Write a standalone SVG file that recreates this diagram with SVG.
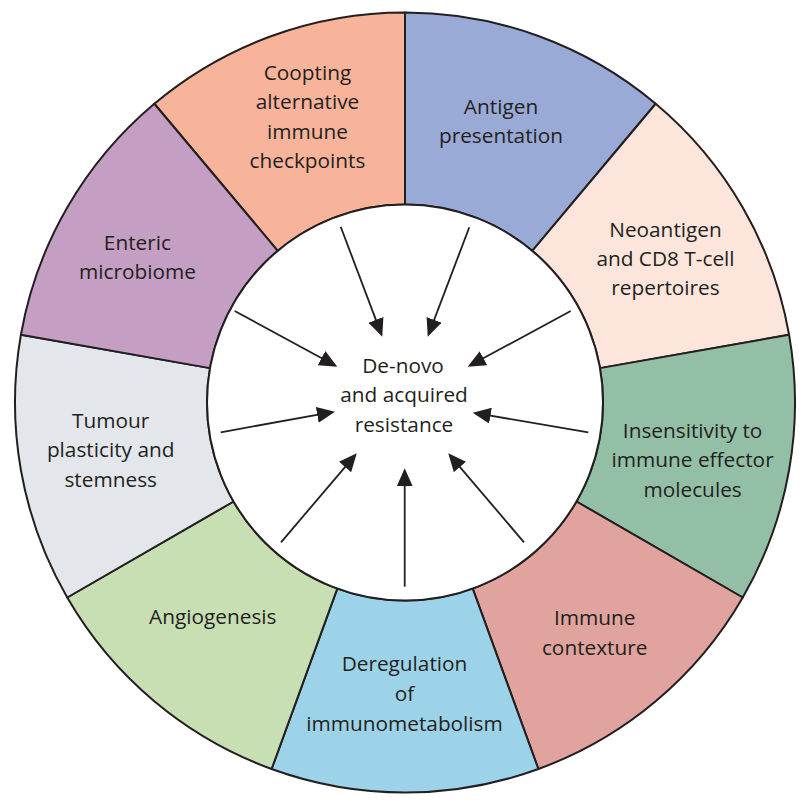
<svg xmlns="http://www.w3.org/2000/svg" width="806" height="807" viewBox="0 0 806 807">
<style>
.seg{stroke:#231f20;stroke-width:2;stroke-linejoin:round}
.lbl{font-family:"Open Sans","Noto Sans","Liberation Sans",sans-serif;font-size:20.8px;fill:#231f20;text-anchor:middle}
.arr{stroke:#231f20;stroke-width:1.8;fill:none;marker-end:url(#ah)}
</style>
<defs>
<marker id="ah" markerUnits="userSpaceOnUse" viewBox="0 0 18 16" markerWidth="18" markerHeight="16" refX="15" refY="8" orient="auto">
<path d="M0,0 L18,8 L0,16 Z" fill="#231f20"/>
</marker>
</defs>
<rect width="806" height="807" fill="#ffffff"/>
<g id="coopting">
<path class="seg" fill="#f7b49a" d="M277.73,250.82 L154.31,103.74 A390,390 0 0 1 405,12.5 L405,204.5 A198,198 0 0 0 277.73,250.82 Z"/>
<text class="lbl" x="307.5" y="80">Coopting</text>
<text class="lbl" x="307.5" y="109">alternative</text>
<text class="lbl" x="307.5" y="138.5">immune</text>
<text class="lbl" x="307.5" y="167.5">checkpoints</text>
</g>
<g id="antigen">
<path class="seg" fill="#9aaad6" d="M405,204.5 L405,12.5 A390,390 0 0 1 655.69,103.74 L532.27,250.82 A198,198 0 0 0 405,204.5 Z"/>
<text class="lbl" x="501" y="113.5">Antigen</text>
<text class="lbl" x="501" y="142.7">presentation</text>
</g>
<g id="neoantigen">
<path class="seg" fill="#fde5db" d="M532.27,250.82 L655.69,103.74 A390,390 0 0 1 789.08,334.78 L599.99,368.12 A198,198 0 0 0 532.27,250.82 Z"/>
<text class="lbl" x="665.5" y="236.7">Neoantigen</text>
<text class="lbl" x="665.5" y="265.7">and CD8 T-cell</text>
<text class="lbl" x="665.5" y="295">repertoires</text>
</g>
<g id="insensitivity">
<path class="seg" fill="#93bfa7" d="M599.99,368.12 L789.08,334.78 A390,390 0 0 1 742.75,597.5 L576.47,501.5 A198,198 0 0 0 599.99,368.12 Z"/>
<text class="lbl" x="692.6" y="438">Insensitivity to</text>
<text class="lbl" x="692.6" y="467.3">immune effector</text>
<text class="lbl" x="692.6" y="497.3">molecules</text>
</g>
<g id="immune-contexture">
<path class="seg" fill="#e0a39e" d="M576.47,501.5 L742.75,597.5 A390,390 0 0 1 538.39,768.98 L472.72,588.56 A198,198 0 0 0 576.47,501.5 Z"/>
<text class="lbl" x="594.7" y="624.7">Immune</text>
<text class="lbl" x="594.7" y="654.7">contexture</text>
</g>
<g id="deregulation">
<path class="seg" fill="#9dd3e8" d="M472.72,588.56 L538.39,768.98 A390,390 0 0 1 271.61,768.98 L337.28,588.56 A198,198 0 0 0 472.72,588.56 Z"/>
<text class="lbl" x="404.5" y="671.3">Deregulation</text>
<text class="lbl" x="404.5" y="700.7">of</text>
<text class="lbl" x="404.5" y="731.3">immunometabolism</text>
</g>
<g id="angiogenesis">
<path class="seg" fill="#c8deb3" d="M337.28,588.56 L271.61,768.98 A390,390 0 0 1 67.25,597.5 L233.53,501.5 A198,198 0 0 0 337.28,588.56 Z"/>
<text class="lbl" x="212.8" y="623.7">Angiogenesis</text>
</g>
<g id="tumour">
<path class="seg" fill="#e3e6ea" d="M233.53,501.5 L67.25,597.5 A390,390 0 0 1 20.92,334.78 L210.01,368.12 A198,198 0 0 0 233.53,501.5 Z"/>
<text class="lbl" x="110.7" y="428">Tumour</text>
<text class="lbl" x="110.7" y="457.3">plasticity and</text>
<text class="lbl" x="110.7" y="487.3">stemness</text>
</g>
<g id="enteric">
<path class="seg" fill="#c49ec3" d="M210.01,368.12 L20.92,334.78 A390,390 0 0 1 154.31,103.74 L277.73,250.82 A198,198 0 0 0 210.01,368.12 Z"/>
<text class="lbl" x="137.4" y="250">Enteric</text>
<text class="lbl" x="137.4" y="279">microbiome</text>
</g>
<g id="center">
<circle cx="405" cy="402.5" r="198" fill="#ffffff" stroke="#231f20" stroke-width="2"/>
<text class="lbl" x="403" y="372.7">De-novo</text>
<text class="lbl" x="404" y="402.3">and acquired</text>
<text class="lbl" x="404" y="432.3">resistance</text>
</g>
<g id="connectors">
<line class="arr" x1="340.7" y1="226.7" x2="381.2" y2="333.9"/>
<line class="arr" x1="469.3" y1="227.3" x2="428.8" y2="333.9"/>
<line class="arr" x1="570.7" y1="311" x2="470.3" y2="365.3"/>
<line class="arr" x1="588.3" y1="432.3" x2="475.7" y2="413.2"/>
<line class="arr" x1="524" y1="542.3" x2="450.2" y2="455.6"/>
<line class="arr" x1="404.7" y1="586.7" x2="404.7" y2="471.3"/>
<line class="arr" x1="281" y1="542.3" x2="354.8" y2="455.6"/>
<line class="arr" x1="220.7" y1="432.3" x2="332" y2="412.2"/>
<line class="arr" x1="234.7" y1="311" x2="334.7" y2="365.3"/>
</g>
</svg>
